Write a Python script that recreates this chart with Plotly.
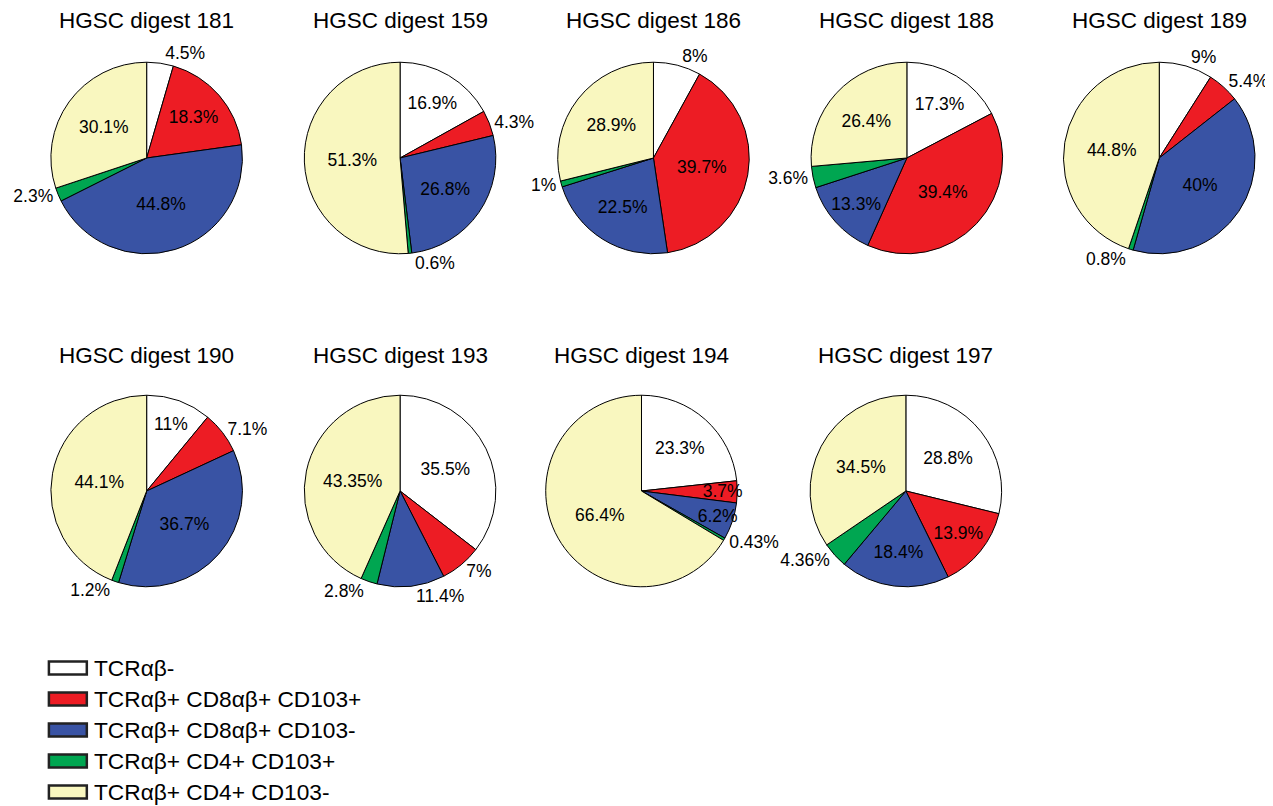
import plotly.graph_objects as go

# page size and the 8px default body margin of the written html page
PAGE_W, PAGE_H = 1273, 806
OFF = 8
W, H = PAGE_W - OFF, PAGE_H - OFF

categories = ["TCRαβ-", "TCRαβ+ CD8αβ+ CD103+", "TCRαβ+ CD8αβ+ CD103-",
              "TCRαβ+ CD4+ CD103+", "TCRαβ+ CD4+ CD103-"]
colors = ["#FFFFFF", "#ED1C24", "#3953A4", "#00A651", "#F9F7BF"]

titles = ["HGSC digest 181", "HGSC digest 159", "HGSC digest 186", "HGSC digest 188",
          "HGSC digest 189", "HGSC digest 190", "HGSC digest 193", "HGSC digest 194",
          "HGSC digest 197"]

d181 = [4.5, 18.3, 44.8, 2.3, 30.1]
d159 = [16.9, 4.3, 26.8, 0.6, 51.3]
d186 = [8, 39.7, 22.5, 1, 28.9]
d188 = [17.3, 39.4, 13.3, 3.6, 26.4]
d189 = [9, 5.4, 40, 0.8, 44.8]
d190 = [11, 7.1, 36.7, 1.2, 44.1]
d193 = [35.5, 7, 11.4, 2.8, 43.35]
d194 = [23.3, 3.7, 6.2, 0.43, 66.4]
d197 = [28.8, 13.9, 18.4, 4.36, 34.5]
series = [d181, d159, d186, d188, d189, d190, d193, d194, d197]

# which labels sit outside the pie
I, O = "inside", "outside"
positions = [
    [O, I, I, O, I],
    [I, O, I, O, I],
    [O, I, I, O, I],
    [I, I, I, O, I],
    [O, O, I, O, I],
    [I, O, I, O, I],
    [I, O, O, O, I],
    [I, I, I, O, I],
    [I, I, I, O, I],
]

# layout: page-pixel centres of pies
centres_x = [147, 401, 655, 909, 1162, 147, 401, 643, 908]
centres_y = [158, 158, 158, 158, 158, 491, 491, 491, 491]
title_y = [20, 20, 20, 20, 20, 355, 355, 355, 355]
R = 96

FONT = "Liberation Sans, Arial, sans-serif"


def px(x):
    return (x - OFF) / W


def py(y):
    return 1 - (y - OFF) / H


fig = go.Figure()
annotations = []
for k, vals in enumerate(series):
    cx, cy = centres_x[k], centres_y[k]
    fig.add_trace(go.Pie(
        values=vals,
        labels=categories,
        text=[f"{v:g}%" for v in vals],
        textinfo="text",
        textposition=positions[k],
        insidetextorientation="horizontal",
        sort=False,
        direction="clockwise",
        rotation=0,
        marker=dict(colors=colors, line=dict(color="#000000", width=1)),
        textfont=dict(family=FONT, size=17.5, color="#000000"),
        insidetextfont=dict(family=FONT, size=17.5, color="#000000"),
        outsidetextfont=dict(family=FONT, size=17.5, color="#000000"),
        domain=dict(x=[px(cx - R), px(cx + R)], y=[py(cy + R), py(cy - R)]),
        showlegend=False,
        hoverinfo="label+text",
    ))
    annotations.append(dict(
        text=titles[k], x=px(cx), y=py(title_y[k]), xref="paper", yref="paper",
        xanchor="center", yanchor="middle", showarrow=False,
        font=dict(family=FONT, size=22.5, color="#000000")))

# legend drawn manually (wide swatches)
shapes = []
leg_y = [668, 699, 730, 761, 792]
for i, name in enumerate(categories):
    y = leg_y[i]
    shapes.append(dict(type="rect", xref="paper", yref="paper",
                       x0=px(49), x1=px(87), y0=py(y + 6.5), y1=py(y - 6.5),
                       fillcolor=colors[i], line=dict(color="#222222", width=2.5)))
    annotations.append(dict(
        text=name, x=px(92), y=py(y), xref="paper", yref="paper",
        xanchor="left", yanchor="middle", showarrow=False,
        font=dict(family=FONT, size=22.7, color="#000000")))

fig.update_layout(
    width=W, height=H,
    margin=dict(l=0, r=0, t=0, b=0),
    paper_bgcolor="#FFFFFF",
    plot_bgcolor="#FFFFFF",
    annotations=annotations,
    shapes=shapes,
    showlegend=False,
    uniformtext=dict(minsize=17.5, mode="show"),
)

fig.write_html("out.html")
